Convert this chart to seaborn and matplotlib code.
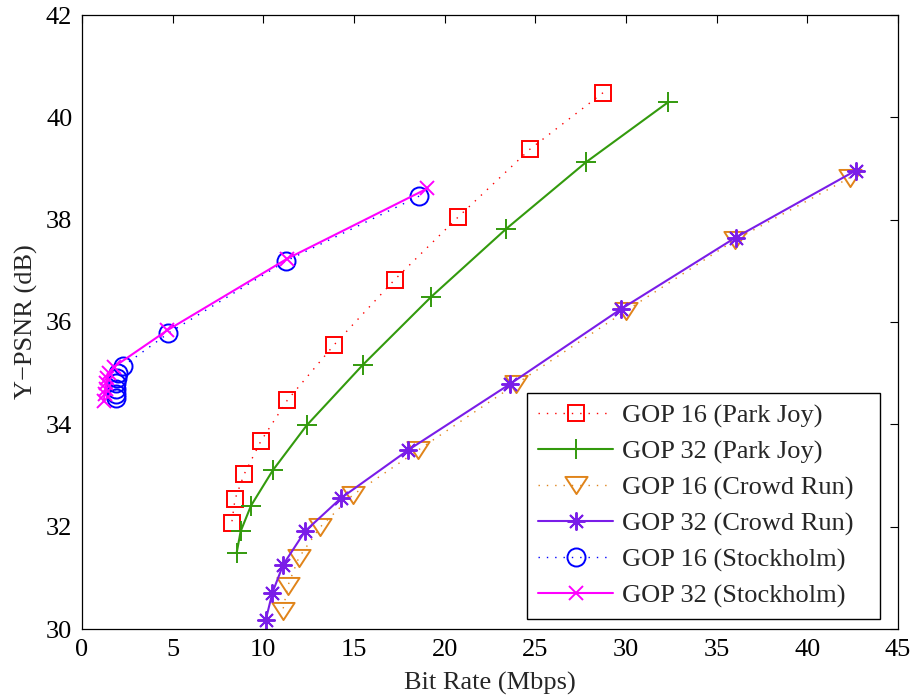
import numpy as np
import pandas as pd
import matplotlib
matplotlib.use("Agg")
import matplotlib.pyplot as plt
from matplotlib.path import Path
import seaborn as sns

# Rate-distortion points (bit rate in Mbps, luma PSNR in dB)
park_gop16_rate = [28.73, 24.71, 20.74, 17.25, 13.92, 11.32, 9.86, 8.95, 8.44, 8.26]
park_gop16_psnr = [40.48, 39.38, 38.05, 36.83, 35.56, 34.47, 33.67, 33.03, 32.54, 32.08]

park_gop32_rate = [32.34, 27.82, 23.39, 19.25, 15.48, 12.39, 10.52, 9.32, 8.75, 8.53]
park_gop32_psnr = [40.30, 39.13, 37.82, 36.49, 35.16, 33.98, 33.10, 32.41, 31.91, 31.49]

crowd_gop16_rate = [42.34, 36.00, 30.00, 23.94, 18.55, 14.93, 13.13, 11.95, 11.36, 11.07]
crowd_gop16_psnr = [38.82, 37.60, 36.22, 34.79, 33.50, 32.62, 31.99, 31.39, 30.85, 30.36]

crowd_gop32_rate = [42.67, 36.04, 29.71, 23.61, 18.00, 14.29, 12.30, 11.10, 10.50, 10.13]
crowd_gop32_psnr = [38.96, 37.65, 36.25, 34.79, 33.50, 32.56, 31.91, 31.26, 30.71, 30.17]

stock_gop16_rate = [18.59, 11.24, 4.76, 2.28, 2.00, 1.95, 1.90, 1.85, 1.85, 1.85]
stock_gop16_psnr = [38.46, 37.19, 35.78, 35.14, 35.00, 34.90, 34.80, 34.70, 34.60, 34.52]

stock_gop32_rate = [19.05, 11.33, 4.71, 1.75, 1.50, 1.40, 1.35, 1.30, 1.25, 1.20]
stock_gop32_psnr = [38.61, 37.24, 35.84, 35.12, 35.00, 34.90, 34.80, 34.70, 34.60, 34.45]

labels = ["GOP 16 (Park Joy)", "GOP 32 (Park Joy)", "GOP 16 (Crowd Run)",
          "GOP 32 (Crowd Run)", "GOP 16 (Stockholm)", "GOP 32 (Stockholm)"]

x_ticks = [0, 5, 10, 15, 20, 25, 30, 35, 40, 45]
y_ticks = [30, 32, 34, 36, 38, 40, 42]

sns.set_theme(style="white")
plt.rcParams["font.family"] = ["Liberation Serif", "DejaVu Serif"]
plt.rcParams["axes.unicode_minus"] = True

# wide, flat downward triangle
tri_down = Path([(-1.0, 0.77), (1.0, 0.77), (0.0, -0.77), (-1.0, 0.77)],
                [Path.MOVETO, Path.LINETO, Path.LINETO, Path.CLOSEPOLY])

dotted = (0, (1, 5))
series = [
    (park_gop16_rate, park_gop16_psnr, "#ff0000", dotted, "s", 12),
    (park_gop32_rate, park_gop32_psnr, "#339a0d", "-", "+", 14),
    (crowd_gop16_rate, crowd_gop16_psnr, "#e0841a", dotted, tri_down, 16),
    (crowd_gop32_rate, crowd_gop32_psnr, "#7a1de8", "-", (8, 2, 0), 13),
    (stock_gop16_rate, stock_gop16_psnr, "#0000ff", dotted, "o", 13),
    (stock_gop32_rate, stock_gop32_psnr, "#ff00ff", "-", "x", 10),
]

fig = plt.figure(figsize=(9.13, 7.0), dpi=100)
ax = fig.add_axes([82 / 913, 1 - 629 / 700, 816 / 913, 614 / 700])

for (rate, psnr, color, ls, marker, ms), lab in zip(series, labels):
    df = pd.DataFrame({"rate": rate, "psnr": psnr})
    lw = 1.0 if ls is dotted else 1.5
    sns.lineplot(data=df, x="rate", y="psnr", ax=ax, sort=False, estimator=None,
                 color=color, linestyle=ls, linewidth=lw, marker=marker,
                 markersize=ms, markerfacecolor="none", markeredgecolor=color,
                 markeredgewidth=1.4, label=lab)

ax.set_xlim(0, 45)
ax.set_ylim(30, 42)
ax.set_xticks(x_ticks)
ax.set_yticks(y_ticks)
ax.set_xticklabels([str(t) for t in x_ticks])
ax.set_yticklabels([str(t) for t in y_ticks])
ax.tick_params(direction="in", length=6, width=0.8, top=True, right=True,
               labelsize=19, pad=7, colors="black")
for sp in ax.spines.values():
    sp.set_visible(True)
    sp.set_color("black")
    sp.set_linewidth(0.9)

ax.set_xlabel("Bit Rate (Mbps)", fontsize=19, labelpad=8)
ax.set_ylabel("Y\u2212PSNR (dB)", fontsize=19, labelpad=6)

leg = ax.legend(loc="lower left", bbox_to_anchor=(0.5453, 0.0163, 0.4326, 0.36),
                mode="expand", fontsize=19, frameon=True, fancybox=False,
                edgecolor="black", framealpha=1, handlelength=2.85,
                handletextpad=0.35, labelspacing=0.46, borderpad=0.42,
                borderaxespad=0.0)
leg.get_frame().set_linewidth(1.0)

fig.savefig("out.png", dpi=100)
